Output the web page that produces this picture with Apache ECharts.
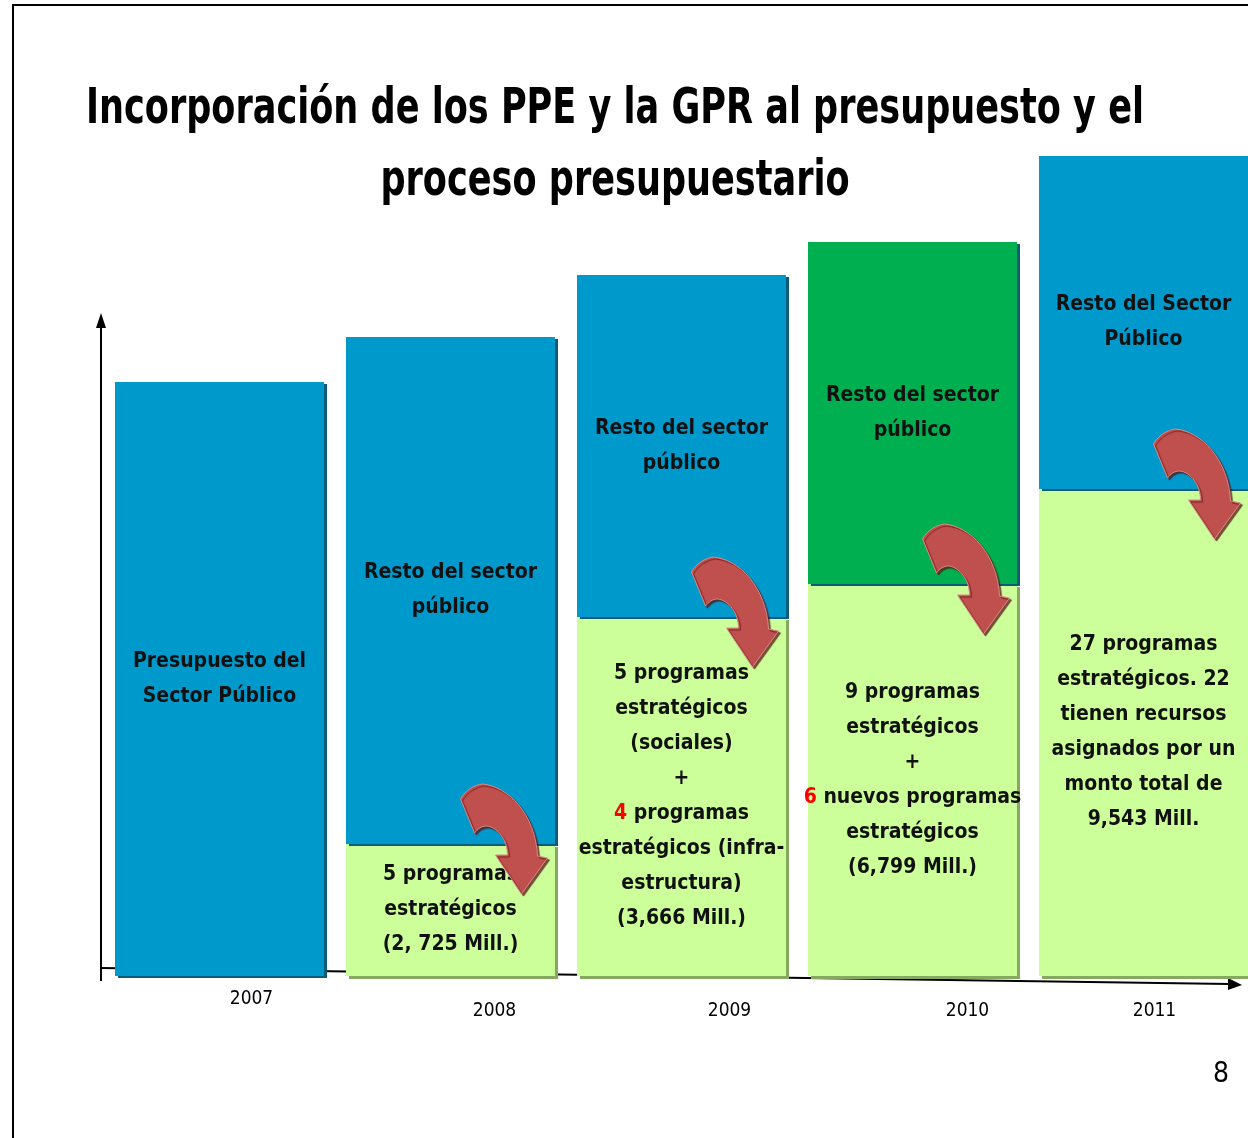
<!DOCTYPE html>
<html>
<head>
<meta charset="utf-8">
<script src="https://cdn.jsdelivr.net/npm/echarts@6/dist/echarts.min.js"></script>
<style>html,body{margin:0;padding:0;background:#fff;overflow:hidden}#main{width:1280px;height:1138px}</style>
</head>
<body>
<div id="main"></div>
<script>
// ---- data ----
var years = ['2007', '2008', '2009', '2010', '2011'];
var programValues = [null, 132, 359, 392, 487];   // light green segment (programas estratégicos)
var restValues = [594, 507, 342, 342, 333];        // upper segment (resto del sector público)
var restLabels = [
  'Presupuesto del\nSector Público',
  'Resto del sector\npúblico',
  'Resto del sector\npúblico',
  'Resto del sector\npúblico',
  'Resto del Sector\nPúblico'
];
var programLabels = [
  '',
  '5 programas\nestratégicos\n(2, 725 Mill.)',
  '5 programas\nestratégicos\n(sociales)\n+\n{r|4} programas\nestratégicos (infra-\nestructura)\n(3,666 Mill.)',
  '9 programas\nestratégicos\n+\n{r|6} nuevos programas\nestratégicos\n(6,799 Mill.)',
  '27 programas\nestratégicos. 22\ntienen recursos\nasignados por un\nmonto total de\n9,543 Mill.'
];
var titleLines = ['Incorporación de los PPE y la GPR al presupuesto y el', 'proceso presupuestario'];
var pageNumber = '8';

var FONT = "'DejaVu Sans Condensed', 'Liberation Sans Narrow', sans-serif";
var BLUE = '#0099cc', DARKGREEN = '#00b050', LIGHTGREEN = '#ccff99', ARROW = '#c0504d';

var chart = echarts.init(document.getElementById('main'), null, {renderer: 'canvas'});

var labelPads = [[0, 0, 0, 64], [12, 0, 0, 88], [12, 0, 0, 96], [12, 0, 0, 110], [12, 0, 0, 22]];
var rich = {};
years.forEach(function (y, i) {
  rich['y' + i] = {fontFamily: FONT, fontSize: 19, color: '#000', padding: labelPads[i]};
});

var labelBase = {
  show: true, position: 'inside', color: '#111', fontFamily: FONT,
  fontWeight: 'bold', fontSize: 21, lineHeight: 35, align: 'center'
};

chart.setOption({
  animation: false,
  grid: {left: 104, width: 1155, top: 156, height: 820, containLabel: false},
  xAxis: {
    type: 'category', data: years,
    axisLine: {show: false}, axisTick: {show: false},
    axisLabel: {
      margin: 14,
      formatter: function (v, i) { return '{y' + i + '|' + v + '}'; },
      rich: rich
    }
  },
  yAxis: {type: 'value', min: 0, max: 820, show: false, splitLine: {show: false}},
  series: [
    {
      name: 'Programas estratégicos', type: 'bar', stack: 'total', barWidth: 209,
      itemStyle: {color: LIGHTGREEN, shadowColor: '#86a860', shadowOffsetX: 3, shadowOffsetY: 3, shadowBlur: 0},
      label: Object.assign({}, labelBase, {
        formatter: function (p) { return programLabels[p.dataIndex]; },
        rich: {r: {color: '#ff0000', fontFamily: FONT, fontWeight: 'bold', fontSize: 21, lineHeight: 35}}
      }),
      data: programValues
    },
    {
      name: 'Resto del sector público', type: 'bar', stack: 'total', barWidth: 209,
      itemStyle: {color: BLUE, shadowColor: '#0b5c78', shadowOffsetX: 3, shadowOffsetY: 2, shadowBlur: 0},
      label: Object.assign({}, labelBase, {
        formatter: function (p) { return restLabels[p.dataIndex]; }
      }),
      data: restValues.map(function (v, i) {
        return i === 3 ? {value: v, itemStyle: {color: DARKGREEN, shadowColor: '#0b5c78'}} : v;
      })
    }
  ]
});

// decorative curved arrow shape
var arrowPath = 'M0,15 C5,6 14,1 22,0 C47,2 75,30 77,72 L87,74 L61,110 L35,71 L47,71 C47,56 37,43 26,42 C21,42 17,45 14,49 L0,15 Z';
var graphics = [
  {type: 'rect', silent: true, shape: {x: 13, y: 5, width: 1400, height: 1300},
   style: {fill: null, stroke: '#000', lineWidth: 2}, z: -10},
  {type: 'line', silent: true, shape: {x1: 101, y1: 981, x2: 101, y2: 324}, style: {stroke: '#000', lineWidth: 2}},
  {type: 'polygon', silent: true, shape: {points: [[101, 313], [96, 328], [106, 328]]}, style: {fill: '#000'}},
  {type: 'line', silent: true, shape: {x1: 101, y1: 968, x2: 1230, y2: 984}, style: {stroke: '#000', lineWidth: 2}, z: -1},
  {type: 'polygon', silent: true, shape: {points: [[1242, 985], [1228, 978], [1228, 990]]}, style: {fill: '#000'}, z: -1},
  {type: 'text', silent: true, x: 1221, y: 1075,
   style: {text: pageNumber, font: '28px ' + FONT, fill: '#000', align: 'center', verticalAlign: 'middle'}},
  {type: 'text', silent: true, x: 615, y: 110, scaleX: 0.78,
   style: {text: titleLines[0], font: 'bold 50px ' + FONT, fill: '#000', align: 'center', verticalAlign: 'middle'}},
  {type: 'text', silent: true, x: 615, y: 182, scaleX: 0.78,
   style: {text: titleLines[1], font: 'bold 50px ' + FONT, fill: '#000', align: 'center', verticalAlign: 'middle'}}
];
try {
  var CurvedArrow = echarts.graphic.extendPath(arrowPath, {});
  echarts.graphic.registerShape('curvedArrow', CurvedArrow);
  programValues.forEach(function (v, i) {
    if (!v) return;
    var pt = chart.convertToPixel({seriesIndex: 0}, [i, v]);
    graphics.push({
      type: 'curvedArrow', silent: true, x: pt[0] + 10, y: pt[1] - 60, z: 100,
      style: {fill: ARROW, stroke: '#d98a88', lineWidth: 1, shadowColor: 'rgba(90,20,20,0.75)', shadowOffsetX: 2, shadowOffsetY: 2, shadowBlur: 1}
    });
  });
} catch (e) { console.log(e); }
chart.setOption({graphic: graphics});
</script>
</body>
</html>
